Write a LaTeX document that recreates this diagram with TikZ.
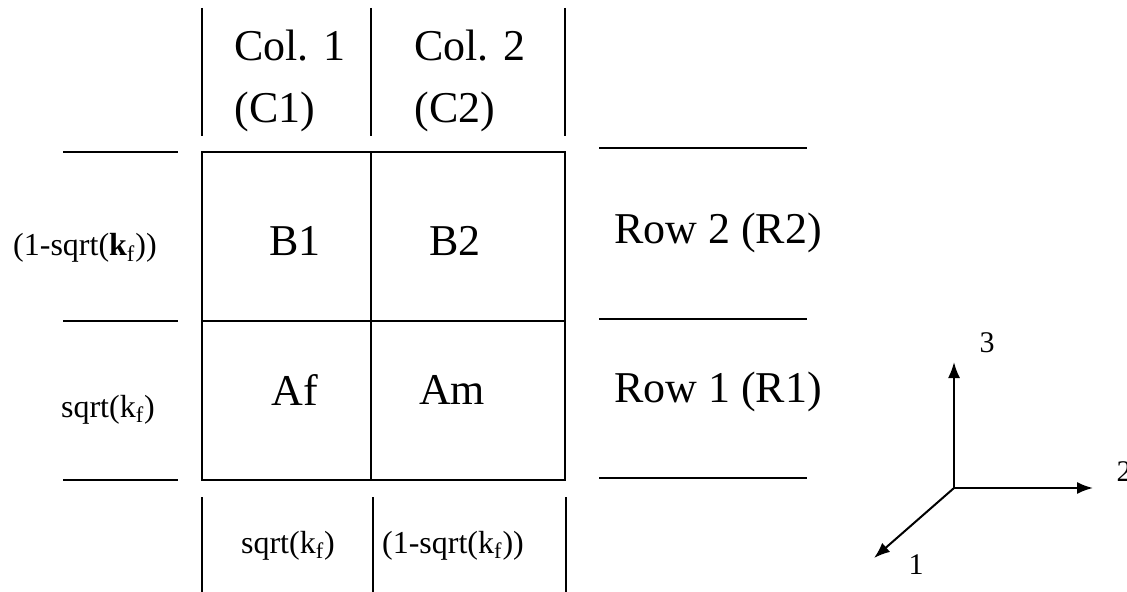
\documentclass[tikz,border=0pt]{standalone}
\usepackage{fontspec}
\setmainfont{Liberation Serif}
\usetikzlibrary{positioning}
\usetikzlibrary{arrows.meta}
\tikzset{
  every node/.style={
    align=left,
    draw=none,
    inner sep=0pt,
  },
  big/.style={font=\fontsize{22}{31}\selectfont},
  small/.style={font=\fontsize{16}{19}\selectfont},
  axlbl/.style={font=\fontsize{15}{18}\selectfont},
  rule/.style={line width=1.1pt},
  axis/.style={line width=1pt,-{Latex[length=8pt,width=6pt]}},
}
\newcommand{\Kf}{k\textsubscript{f}}

\begin{document}
\begin{tikzpicture}[x=0.5pt,y=-0.5pt]
    \useasboundingbox (0,0) rectangle (1127,592);
    % column heads
    \draw[rule] (202,8) -- (202,136) (371,8) -- (371,136) (565,8) -- (565,136);
    \node[big,anchor=north west] (col1) at (234,30) {Col. 1\\(C1)};
    \node[big,anchor=north west] (col2) at (414,30) {Col. 2\\(C2)};
    % cells
    \draw[rule] (202,152) rectangle (565,480);
    \draw[rule] (202,321) -- (565,321) (371,152) -- (371,480);
    \node[big,anchor=base] (b1) at (295,256) {B1};
    \node[big,anchor=base] (b2) at (455,256) {B2};
    \node[big,anchor=base] (af) at (295,405) {Af};
    \node[big,anchor=base] (am) at (452,404) {Am};
    % row fractions
    \draw[rule] (63,152) -- (178,152) (63,321) -- (178,321) (63,480) -- (178,480);
    \node[small,anchor=base] (fr2) at (85,256) {(1-sqrt(\textbf{k}\textsubscript{f}))};
    \node[small,anchor=base] (fr1) at (108,417) {sqrt(\Kf)};
    % row names
    \draw[rule] (599,148) -- (807,148) (599,319) -- (807,319) (599,478) -- (807,478);
    \node[big,anchor=base] (row2) at (718,244) {Row 2 (R2)};
    \node[big,anchor=base] (row1) at (718,402) {Row 1 (R1)};
    % column fractions
    \draw[rule] (202,497) -- (202,592) (373,497) -- (373,592) (566,497) -- (566,592);
    \node[small,anchor=base] (fc1) at (288,553) {sqrt(\Kf)};
    \node[small,anchor=base] (fc2) at (453,553) {(1-sqrt(\Kf))};
    % axes
    \coordinate (o) at (954,488);
    \coordinate (e3) at (954,362);
    \coordinate (e2) at (1093,488);
    \coordinate (e1) at (874,558);
    \draw[axis] (o) -- (e3);
    \draw[axis] (o) -- (e2);
    \draw[axis] (o) -- (e1);
    \node[axlbl] (n3) at (987,343) {3};
    \node[axlbl] (n2) at (1124,472) {2};
    \node[axlbl] (n1) at (916,565) {1};
\end{tikzpicture}
\end{document}
